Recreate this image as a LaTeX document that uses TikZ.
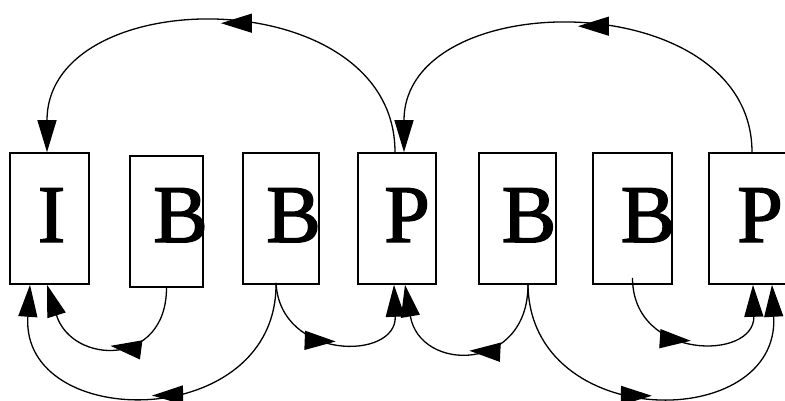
\documentclass[tikz,border=0pt]{standalone}
\usepackage{fontspec}
\setmainfont{Liberation Serif}
\newfontfamily\gopfont[FakeBold=1.8]{Liberation Serif}
\usetikzlibrary{arrows.meta,decorations.markings}
\begin{document}
\begin{tikzpicture}[x=1pt,y=-1pt,
  gopbox/.style={draw=black,line width=1.6pt,inner sep=0pt,minimum width=#1,minimum height=131pt},
  letter/.style={inner sep=0pt,anchor=base,font=\gopfont\fontsize{82}{82}\selectfont},
  link/.style={line width=1.3pt,-{Triangle[length=32pt,width=19pt]},
    postaction={decorate},
    decoration={markings,mark=at position 0.5 with {\arrow{Triangle[length=31pt,width=19pt]}}}},
]
\clip (0,0) rectangle (785,401);
% letters
\node[letter] (tI)  at (51.5,242) {I};
\node[letter] (tB1) at (180.5,242) {B};
\node[letter] (tB2) at (293.5,242) {B};
\node[letter] (tP1) at (407,242) {P};
\node[letter] (tB3) at (529,242) {B};
\node[letter] (tB4) at (648,242) {B};
\node[letter] (tP2) at (760,242) {P};
% boxes
\node[gopbox=79pt] (I)  at (49.5,218.5) {};
\node[gopbox=73pt] (B1) at (166.5,221.5) {};
\node[gopbox=76pt] (B2) at (281,218.5) {};
\node[gopbox=78pt] (P1) at (397,218.5) {};
\node[gopbox=77pt] (B3) at (517.5,218.5) {};
\node[gopbox=79pt] (B4) at (632.5,218.5) {};
\node[gopbox=78pt] (P2) at (748,218.5) {};
% top arcs
\draw[link] ([xshift=-2pt]P1.north) .. controls +(0,-172) and +(0,-172) .. ([xshift=-2.5pt]I.north);
\draw[link] ([xshift=4pt]P2.north) .. controls +(0,-168) and +(0,-168) .. ([xshift=7pt]P1.north);
% bottom arcs
\draw[link] (B1.south) .. controls +(0,80) and +(25,80) .. ([xshift=-2.5pt]I.south);
\draw[link] ([xshift=-5pt,yshift=2pt]B2.south) .. controls +(2,150) and +(-10,148) .. ([xshift=-19.5pt]I.south);
\draw[link] ([xshift=-5pt,yshift=2pt]B2.south) .. controls +(4,78) and +(3,76) .. ([xshift=-3pt]P1.south);
\draw[link] ([xshift=10.5pt]B3.south) .. controls +(0,88) and +(15,88) .. ([xshift=8pt]P1.south);
\draw[link] ([xshift=10.5pt]B3.south) .. controls +(2,148) and +(8,148) .. ([xshift=24pt]P2.south);
\draw[link] ([yshift=7pt]B4.south) .. controls +(0,83) and +(2,76) .. ([xshift=5pt]P2.south);
\end{tikzpicture}
\end{document}
